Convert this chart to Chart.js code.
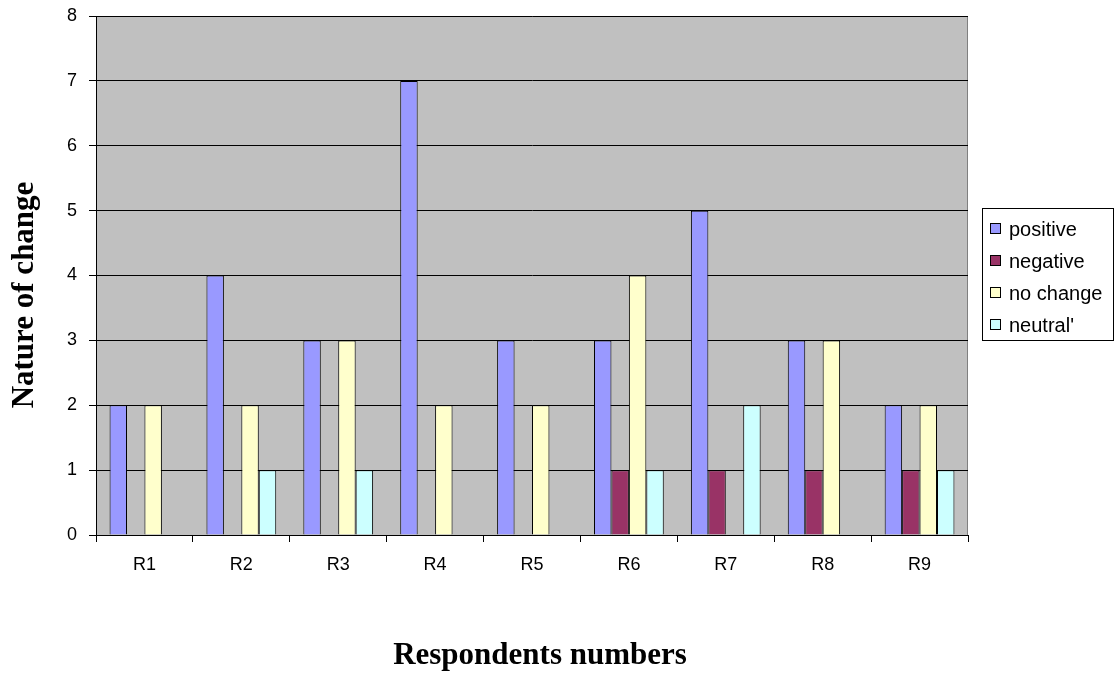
<!DOCTYPE html>
<html>
<head>
<meta charset="utf-8">
<script src="https://cdn.jsdelivr.net/npm/chart.js@4/dist/chart.umd.min.js"></script>
<style>
  body { margin: 0; background: #fff; }
  #wrap { width: 1116px; height: 675px; }
</style>
</head>
<body>
<div id="wrap"><canvas id="changeChart" width="1116" height="675"></canvas></div>
<script>
// respondents and counts per kind of change
const respondents = ["R1", "R2", "R3", "R4", "R5", "R6", "R7", "R8", "R9"];
const positive  = [2, 4, 3, 7, 3, 3, 5, 3, 2];
const negative  = [0, 0, 0, 0, 0, 1, 1, 1, 1];
const noChange  = [2, 2, 3, 2, 2, 4, 0, 3, 2];
const neutral   = [0, 1, 1, 0, 0, 1, 2, 0, 1];
const seriesNames = ["positive", "negative", "no change", "neutral'"];
const seriesColors = ["#9999FF", "#993366", "#FFFFCC", "#CCFFFF"];
const xTitle = "Respondents numbers";
const yTitle = "Nature of change";

// gray plot area with a thin gray frame, like the old excel look
const plotBackground = {
    id: 'plotBackground',
    beforeDraw(chart) {
        const a = chart.chartArea, c = chart.ctx;
        c.save();
        c.fillStyle = '#C0C0C0';
        c.fillRect(a.left, a.top, a.right - a.left, a.bottom - a.top);
        c.strokeStyle = '#808080';
        c.lineWidth = 1;
        c.beginPath();
        c.moveTo(a.left, a.top + 0.5);
        c.lineTo(a.right - 0.5, a.top + 0.5);
        c.lineTo(a.right - 0.5, a.bottom);
        c.stroke();
        c.restore();
    }
};

// axis titles sit a bit off-centre, so they are drawn by hand
const axisTitles = {
    id: 'axisTitles',
    afterDraw(chart) {
        const c = chart.ctx;
        c.save();
        c.fillStyle = '#000';
        c.font = 'bold 31px "Liberation Serif", "Times New Roman", serif';
        c.textAlign = 'center';
        c.textBaseline = 'middle';
        c.fillText(xTitle, 540, 656);
        c.translate(25, 295);
        c.rotate(-Math.PI / 2);
        c.fillText(yTitle, 0, 0);
        c.restore();
    }
};

// boxed legend on the right side
const boxLegend = {
    id: 'boxLegend',
    afterDraw(chart) {
        const c = chart.ctx;
        const x = 982, y = 208, w = 131, h = 132;
        c.save();
        c.fillStyle = '#fff';
        c.fillRect(x, y, w, h);
        c.strokeStyle = '#000';
        c.lineWidth = 1;
        c.strokeRect(x + 0.5, y + 0.5, w, h);
        c.font = '20px "Liberation Sans", Arial, sans-serif';
        c.textBaseline = 'middle';
        chart.data.datasets.forEach(function (ds, i) {
            const cy = y + 21 + i * 32;
            c.fillStyle = ds.backgroundColor;
            c.fillRect(x + 8.5, cy - 5.5, 10, 10);
            c.strokeStyle = '#000';
            c.strokeRect(x + 8.5, cy - 5.5, 10, 10);
            c.fillStyle = '#000';
            c.fillText(ds.label, x + 27, cy + 1);
        });
        c.restore();
    }
};

const allSeries = [positive, negative, noChange, neutral];
const data = {
    labels: respondents,
    datasets: allSeries.map(function (vals, i) {
        return {
            label: seriesNames[i],
            data: vals,
            backgroundColor: seriesColors[i],
            borderColor: '#000',
            borderWidth: 1,
            categoryPercentage: 0.72,
            barPercentage: 1.0
        };
    })
};

const tickFont = { family: '"Liberation Sans", Arial, sans-serif', size: 18 };

const config = {
    type: 'bar',
    data: data,
    plugins: [plotBackground, axisTitles, boxLegend],
    options: {
        responsive: false,
        animation: false,
        layout: { padding: { left: 0, right: 148, top: 16, bottom: 0 } },
        plugins: {
            legend: { display: false },
            tooltip: { enabled: false }
        },
        scales: {
            x: {
                grid: { display: true, drawOnChartArea: false, offset: true, color: '#000', tickLength: 7 },
                border: { color: '#000' },
                ticks: { color: '#000', font: tickFont, padding: 12 },
                afterFit: function (scale) { scale.height = 140; }
            },
            y: {
                min: 0,
                max: 8,
                grid: { color: '#000', tickLength: 7 },
                border: { color: '#000' },
                ticks: { stepSize: 1, color: '#000', font: tickFont, padding: 12 },
                afterFit: function (scale) {
                    scale.width = 96;
                    scale.paddingTop = 0;
                    scale.paddingBottom = 0;
                }
            }
        }
    }
};

const ctx = document.getElementById('changeChart').getContext('2d');
const changeChart = new Chart(ctx, config);
</script>
</body>
</html>
